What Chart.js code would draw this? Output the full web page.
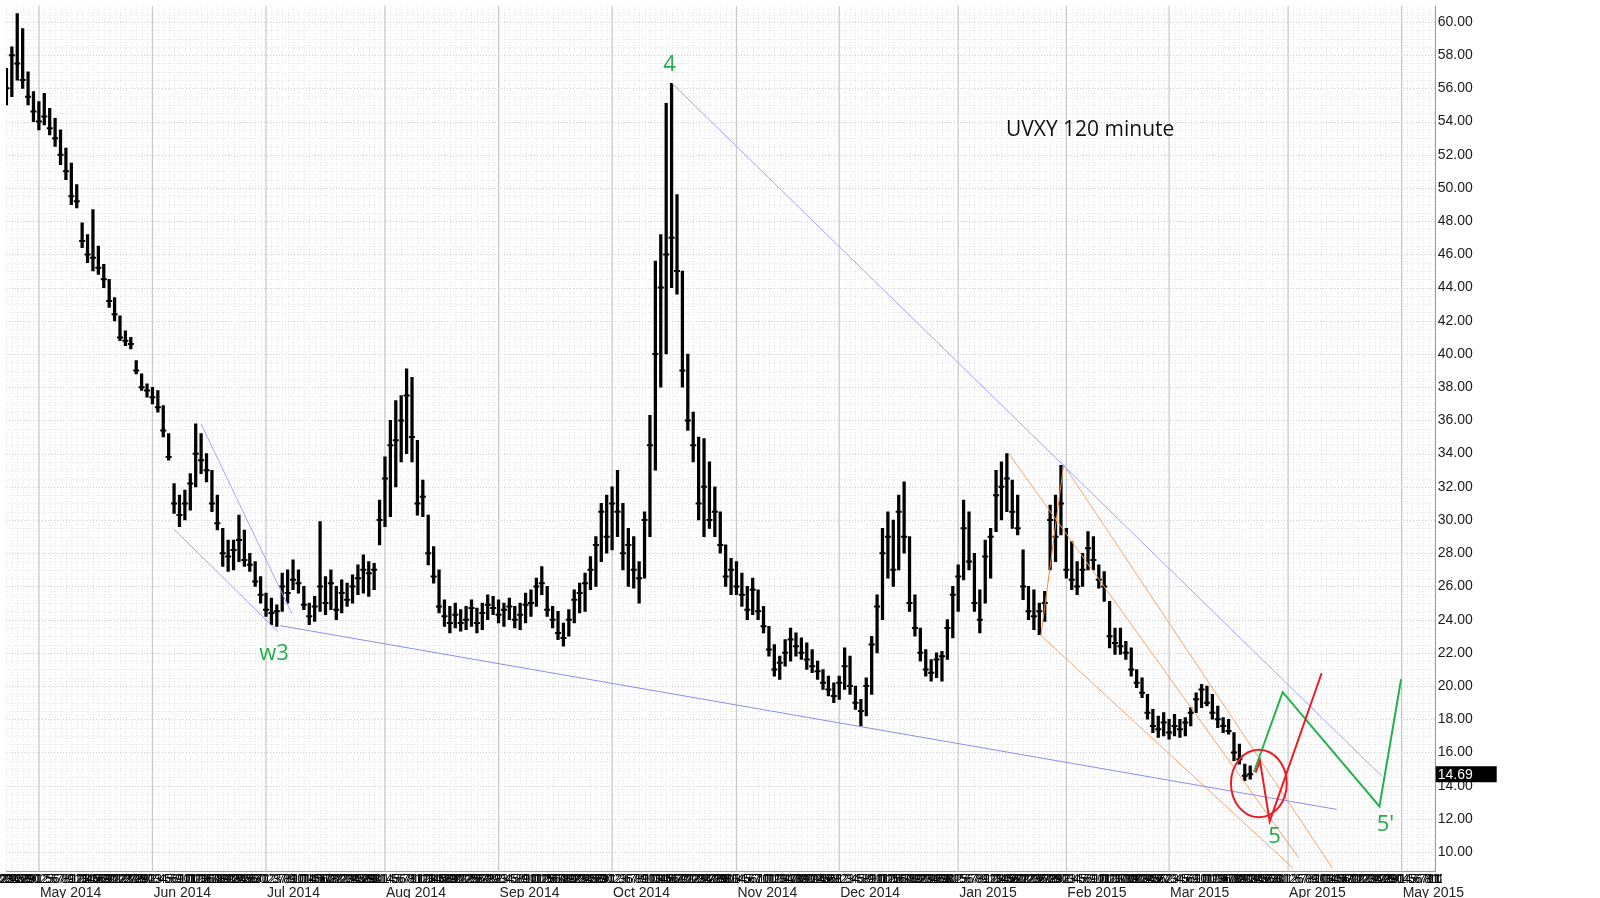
<!DOCTYPE html>
<html><head><meta charset="utf-8">
<script src="https://cdn.jsdelivr.net/npm/chart.js@4.4.1/dist/chart.umd.min.js"></script>
<style>html,body{margin:0;padding:0;background:#fff;overflow:hidden}canvas{display:block}</style>
</head><body>
<canvas id="c" width="1600" height="898"></canvas>
<script>
// ---- price data: one bar per trading day, index 0 = 1 May 2014 ----
const firstIndex = -6;
const lows = [
55.0,55.5,56.5,56.0,55.0,54.0,53.5,53.8,53.2,52.5,
51.4,50.5,49.0,48.8,46.4,45.5,45.0,44.8,44.0,42.8,
42.0,40.8,40.5,40.3,38.8,37.8,37.4,37.0,36.5,35.0,
33.6,30.4,29.6,30.0,30.6,32.0,32.8,32.3,30.5,29.4,
27.2,26.9,27.0,27.5,27.2,26.9,26.0,25.0,24.2,23.7,
23.6,24.5,25.0,25.8,25.6,24.6,23.7,23.9,24.5,24.3,
24.6,24.0,24.4,24.8,25.0,25.5,25.6,25.4,25.8,28.5,
29.6,30.2,32.0,33.5,34.0,33.5,30.3,30.2,27.3,26.2,
24.4,23.6,23.2,23.5,23.3,23.4,23.6,23.2,23.4,24.0,
24.3,23.8,23.6,24.0,23.5,23.4,23.8,24.2,24.8,25.5,
24.2,23.5,22.8,22.4,23.0,23.8,24.4,24.5,25.8,26.0,
27.5,28.0,28.2,29.0,27.0,26.0,25.9,25.0,26.5,29.0,
33.0,38.0,40.0,44.0,43.6,38.0,35.4,33.5,30.0,29.0,
29.5,29.0,28.0,26.0,25.5,25.5,24.8,24.0,24.3,24.0,
23.2,21.8,20.6,20.4,21.2,21.5,21.8,21.6,21.0,20.8,
20.4,19.8,19.4,19.0,19.2,19.8,19.5,18.6,17.6,18.2,
19.5,22.0,24.0,26.5,26.0,27.0,28.0,24.5,23.0,21.5,
20.6,20.3,20.5,20.3,21.6,22.9,24.5,26.4,27.0,24.5,
23.2,25.0,26.5,29.3,30.0,30.5,29.5,29.1,25.2,24.0,
23.4,23.1,23.9,27.0,27.5,29.1,26.5,25.8,25.5,26.0,
27.0,27.0,25.9,25.1,22.3,21.9,21.9,21.6,20.6,19.9,
19.3,18.0,17.2,16.9,17.0,16.8,17.0,16.9,17.0,17.6,
18.4,18.7,18.8,18.0,17.5,17.2,17.1,15.5,15.3,14.3,
14.4];
const highs = [
57.2,58.5,60.5,59.6,57.0,55.8,55.2,55.7,54.8,54.2,
53.5,52.4,51.5,50.2,47.9,47.2,48.7,46.5,45.4,44.5,
43.4,42.3,41.4,41.0,39.6,38.8,38.2,38.0,37.8,36.9,
35.2,32.2,31.5,31.8,32.8,35.8,35.2,34.0,33.0,31.5,
29.5,28.8,28.8,30.3,29.4,28.0,27.5,26.6,25.6,25.3,
24.9,26.8,27.0,27.6,27.0,26.0,25.0,25.4,29.9,26.6,
27.0,26.0,26.4,26.2,26.7,27.3,27.9,27.5,27.4,31.2,
33.8,36.0,37.2,37.5,39.1,38.6,34.8,32.4,30.3,28.4,
27.0,25.2,24.8,25.0,24.6,24.8,25.2,24.7,25.0,25.5,
25.4,25.2,25.0,25.3,24.8,25.0,25.6,25.8,26.5,27.2,
26.0,24.8,24.5,23.8,24.6,25.8,26.2,26.8,27.8,29.0,
31.0,31.5,32.0,33.0,31.0,29.5,29.0,27.5,30.5,36.3,
45.6,47.2,55.1,56.3,49.6,45.0,40.0,36.5,35.0,34.9,
33.5,32.0,30.5,28.5,27.7,27.5,26.8,26.0,26.5,25.8,
24.8,23.6,22.5,21.8,22.8,23.5,23.2,22.9,22.6,22.2,
21.5,21.0,20.6,20.2,20.6,22.3,21.8,20.0,19.2,20.5,
23.0,25.5,29.5,30.5,30.0,31.5,32.3,29.0,25.5,23.5,
22.2,21.6,22.0,22.1,24.0,26.0,27.3,31.2,30.5,28.0,
25.8,28.8,29.5,33.0,33.5,34.0,32.4,31.5,28.2,26.0,
25.8,25.0,25.7,30.9,31.5,33.3,29.5,28.7,27.5,28.0,
29.3,29.0,27.3,26.9,25.1,23.5,23.5,22.7,22.3,21.0,
20.5,19.5,18.6,18.2,18.4,18.0,18.3,18.0,18.1,18.7,
19.6,20.1,20.0,19.5,18.8,18.1,18.0,17.2,16.5,15.3,
15.2];
const closes = [
56.0,58.0,57.5,56.5,55.5,54.6,54.0,54.3,53.6,53.0,
52.0,51.0,49.5,49.2,46.8,46.0,45.8,45.2,44.5,43.2,
42.4,41.0,40.8,40.6,39.0,38.0,37.8,37.4,36.8,35.4,
33.8,31.0,30.3,31.0,32.2,34.0,33.6,33.0,31.0,29.8,
28.0,27.8,28.2,28.8,27.6,27.3,26.3,25.5,24.6,24.4,
24.5,26.0,25.6,26.4,26.2,24.9,24.2,24.8,26.0,25.0,
26.2,24.6,25.6,25.2,26.0,26.5,27.0,26.8,27.0,30.0,
32.5,34.5,34.8,36.0,37.5,35.0,31.0,31.4,28.0,26.6,
24.8,24.2,23.8,24.3,23.8,24.0,24.7,23.8,24.4,24.9,
24.7,24.3,24.6,24.8,24.0,24.3,24.9,25.0,26.0,26.2,
24.6,24.0,23.2,22.9,24.0,25.2,25.6,26.2,27.0,28.5,
30.5,29.0,31.0,30.5,28.0,28.5,27.0,26.5,30.0,34.5,
40.0,44.0,46.0,47.0,45.0,39.0,36.0,34.5,31.0,32.0,
30.0,30.5,28.5,26.6,27.0,26.0,25.5,24.6,25.8,24.5,
23.6,22.2,21.0,21.4,22.0,22.8,22.4,22.0,21.6,21.2,
20.9,20.2,19.8,19.4,20.2,21.2,20.0,19.0,18.5,20.0,
22.5,24.8,28.0,29.0,27.0,30.5,29.0,25.0,23.5,22.0,
21.0,20.8,21.6,21.8,23.5,25.5,26.6,29.5,27.5,25.0,
24.0,27.8,29.0,31.5,32.0,32.5,30.5,29.5,26.0,24.5,
24.2,24.5,25.0,30.0,29.0,31.0,27.0,26.4,26.0,27.0,
28.3,27.6,26.4,26.0,23.0,22.6,22.4,22.0,21.0,20.2,
19.6,18.4,17.6,17.4,17.8,17.2,17.6,17.4,17.8,18.4,
19.2,19.8,19.0,18.4,18.0,17.6,17.3,16.0,15.6,14.6,
14.69];
const lastPrice = 14.69;

// ---- axis ----
const monthStarts = [0,21,42,64,85,106,129,148,170,190,209,231,252];
const monthLabels = ['May 2014','Jun 2014','Jul 2014','Aug 2014','Sep 2014','Oct 2014','Nov 2014','Dec 2014','Jan 2015','Feb 2015','Mar 2015','Apr 2015','May 2015'];
const yTicks = [10,12,14,16,18,20,22,24,26,28,30,32,34,36,38,40,42,44,46,48,50,52,54,56,58,60];
const marketHolidays = ['2014-05-26','2014-07-04','2014-09-01','2014-11-27','2014-12-25','2015-01-01','2015-01-19','2015-02-16','2015-04-03'];
const dateRowOffsets = [-0.2,0.2]; // date label repeated for the intraday bars of a session

// ---- drawn lines [index, price] ----
const blueUpper = [[117.1,56.29],[248.4,14.55]];
const blueLower = [[44.6,23.64],[240.0,12.57]];
const w3Upper = [[30.0,35.78],[46.8,24.35]];
const w3Lower = [[25.0,29.44],[44.2,23.28]];
const orange1 = [[179.4,33.98],[233.0,9.64]];
const orange2 = [[189.5,33.33],[239.2,9.04]];
const orange3 = [[185.3,23.04],[231.9,9.04]];
const orangeLeg = [[185.3,23.04],[189.5,33.33]];
const redPath = [[225.0,14.78],[225.8,15.50],[227.6,11.85],[237.2,20.77]];
const greenPath = [[224.7,14.84],[230.0,19.63],[247.9,12.75],[251.9,20.41]];
const redCircle = [225.6,14.13,5.16,2.03]; // x, y, x-radius (days), y-radius (price)

// ---- labels ----
const waveLabels = ['4','w3','5',"5'"];
const waveLabelX = [116.6,43.5,228.5,249.0];
const waveLabelY = [57.4,21.96,10.9,11.67];
const titleText = 'UVXY 120 minute';
const titlePos = [194.4,53.5];

const bars = lows.map((lo,k)=>({x:firstIndex+k, y:[lo, highs[k]]}));
const closePts = closes.map((c,k)=>({x:firstIndex+k, y:c}));
const pts = a => a.map(p=>({x:p[0],y:p[1]}));

function lineDs(arr, color, w){
  return {type:'line', data:pts(arr), borderColor:color, borderWidth:w, pointRadius:0, fill:false, tension:0, order:1};
}

function tradingDays(){
  const out=[]; let d=Date.UTC(2014,3,22); let idx=-7;
  while(idx<=262){
    const dt=new Date(d); const wd=dt.getUTCDay(); const iso=dt.toISOString().slice(0,10);
    if(wd!==0 && wd!==6 && marketHolidays.indexOf(iso)<0){ out.push({i:idx, day:dt.getUTCDate()}); idx++; }
    d+=86400000;
  }
  return out;
}
const dayRow = tradingDays();

const bgGrid = {
  id:'bgGrid',
  beforeDatasetsDraw(chart){
    const {ctx, chartArea:a, scales:{x,y}} = chart;
    ctx.save();
    ctx.beginPath(); ctx.rect(a.left,a.top,a.right-a.left,a.bottom-a.top); ctx.clip();
    ctx.lineWidth=1; ctx.setLineDash([1,2]);
    ctx.strokeStyle='#e4e4e4';
    for(let i=Math.ceil(x.min); i<=x.max; i++){
      const px=Math.round(x.getPixelForValue(i))+0.5;
      ctx.beginPath(); ctx.moveTo(px,a.top); ctx.lineTo(px,a.bottom); ctx.stroke();
    }
    for(let v=9; v<=61; v+=0.5){
      const py=Math.round(y.getPixelForValue(v))+0.5;
      ctx.strokeStyle = (v%2===0)?'#cdcdcd':'#e4e4e4';
      ctx.beginPath(); ctx.moveTo(a.left,py); ctx.lineTo(a.right,py); ctx.stroke();
    }
    ctx.setLineDash([]);
    ctx.strokeStyle='#c8c8c8'; ctx.lineWidth=1.2;
    monthStarts.forEach(m=>{
      const px=x.getPixelForValue(m);
      ctx.beginPath(); ctx.moveTo(px,a.top); ctx.lineTo(px,a.bottom); ctx.stroke();
    });
    ctx.restore();
  }
};

const overlay = {
  id:'overlay',
  afterDraw(chart){
    const {ctx, chartArea:a, scales:{x,y}} = chart;
    ctx.save();
    const cx=x.getPixelForValue(redCircle[0]), cy=y.getPixelForValue(redCircle[1]);
    const rx=Math.abs(x.getPixelForValue(redCircle[0]+redCircle[2])-cx);
    const ry=Math.abs(y.getPixelForValue(redCircle[1]+redCircle[3])-cy);
    ctx.strokeStyle='#ec1c24'; ctx.lineWidth=2;
    ctx.beginPath(); ctx.ellipse(cx,cy,rx,ry,0,0,Math.PI*2); ctx.stroke();
    ctx.fillStyle='#22ac4a'; ctx.font='22px "Open Sans", "Noto Sans", sans-serif';
    ctx.textAlign='center'; ctx.textBaseline='middle';
    waveLabels.forEach((t,k)=>ctx.fillText(t, x.getPixelForValue(waveLabelX[k]), y.getPixelForValue(waveLabelY[k])));
    ctx.fillStyle='#111'; ctx.font='21px "Open Sans", "Noto Sans", sans-serif';
    ctx.fillText(titleText, x.getPixelForValue(titlePos[0]), y.getPixelForValue(titlePos[1]));
    const py=y.getPixelForValue(lastPrice);
    ctx.fillStyle='#000'; ctx.fillRect(a.right, py-8, 61, 16);
    ctx.fillStyle='#fff'; ctx.font='14px "Liberation Sans", Arial, sans-serif';
    ctx.textAlign='left'; ctx.fillText(lastPrice.toFixed(2), a.right+2, py+0.5);
    ctx.fillStyle='#000'; ctx.font='12px "Liberation Sans Narrow", "Liberation Sans", Arial, sans-serif';
    ctx.textAlign='center'; ctx.textBaseline='middle';
    ctx.beginPath(); ctx.rect(0,a.bottom,a.right+6,18); ctx.clip();
    dayRow.forEach(d=>{
      dateRowOffsets.forEach(o=>ctx.fillText(String(d.day), x.getPixelForValue(d.i+o), a.bottom+8));
    });
    ctx.restore();
    ctx.save();
    ctx.fillStyle='#222'; ctx.font='14px "Liberation Sans", Arial, sans-serif';
    ctx.textAlign='left'; ctx.textBaseline='top';
    monthStarts.forEach((m,k)=>ctx.fillText(monthLabels[k], x.getPixelForValue(m)+1, a.bottom+14));
    ctx.restore();
  }
};

new Chart(document.getElementById('c'), {
  type:'line',
  data:{datasets:[
    lineDs(redPath,'#ec1c24',2),
    lineDs(greenPath,'#22b14c',2),
    lineDs(blueUpper,'#a3a3ff',1),
    lineDs(blueLower,'#8c8cf0',1),
    lineDs(w3Upper,'#a3a3ff',1),
    lineDs(w3Lower,'#a3a3ff',1),
    lineDs(orange1,'#f7a46a',1),
    lineDs(orange2,'#f7a46a',1),
    lineDs(orange3,'#f7a46a',1),
    lineDs(orangeLeg,'#f08a40',1),
    {type:'line', data:closePts, showLine:false, pointStyle:'line', pointRadius:3, borderColor:'#000', borderWidth:2, order:5},
    {type:'bar', data:bars, backgroundColor:'#000', borderWidth:0, barThickness:2.6, grouped:false, order:6}
  ]},
  options:{
    responsive:false, animation:false, devicePixelRatio:1,
    layout:{padding:0},
    plugins:{legend:{display:false}, tooltip:{enabled:false}},
    scales:{
      x:{type:'linear', min:-6.08, max:258.3, offset:false,
         grid:{display:false}, ticks:{display:false},
         border:{display:true, color:'#9a9a9a'},
         afterFit(s){ s.height=26.3; s.paddingLeft=0; s.paddingRight=0; }},
      y:{type:'linear', position:'right', min:8.82, max:60.96,
         grid:{display:false, drawTicks:false},
         border:{display:true, color:'#9a9a9a'},
         afterBuildTicks(s){ s.ticks = yTicks.map(v=>({value:v})); },
         ticks:{padding:2, color:'#1a1a1a', font:{family:'"Liberation Sans", Arial, sans-serif', size:14},
                callback:v=>Number(v).toFixed(2)},
         afterFit(s){ s.width=164.3; s.paddingTop=0; s.paddingBottom=0; }}
    }
  },
  plugins:[bgGrid, overlay]
});
</script>
</body></html>
